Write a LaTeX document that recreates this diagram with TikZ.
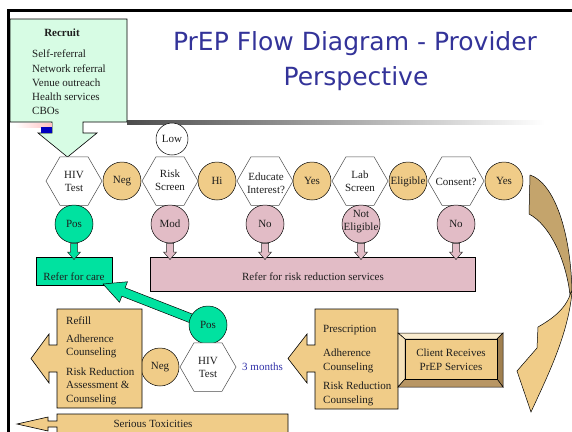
\documentclass[tikz,border=0pt]{standalone}
\usepackage{fontspec}
\setmainfont{Liberation Serif}
\newfontfamily\titlefont{DejaVu Sans}
\usetikzlibrary{shapes.geometric,calc}
\definecolor{cTan}{RGB}{240,204,136}
\definecolor{cDarkTan}{RGB}{196,164,108}
\definecolor{cPink}{RGB}{226,188,198}
\definecolor{cGreen}{RGB}{0,226,160}
\definecolor{cLGreen}{RGB}{215,252,228}
\definecolor{cTitle}{RGB}{51,51,153}
\definecolor{cMonths}{RGB}{51,51,170}
\definecolor{cBevL}{RGB}{250,236,206}
\definecolor{cBevL2}{RGB}{246,226,186}
\definecolor{cBevD}{RGB}{160,128,80}
\definecolor{cBevD2}{RGB}{184,150,100}
\definecolor{cTxt}{RGB}{30,30,30}
\newcommand{\smallarr}[3]{%
  \path let \p1=(#1.south), \p2=(#1.south |- #2.north) in
    [fill=#3, draw=black!85, line width=0.5pt]
    (\x1-3.5pt,\y1) -- (\x1-3.5pt,\y2+5pt) -- (\x1-6.5pt,\y2+5pt) -- (\x1,\y2-2.5pt)
    -- (\x1+6.5pt,\y2+5pt) -- (\x1+3.5pt,\y2+5pt) -- (\x1+3.5pt,\y1) -- cycle;}
\begin{document}
\begin{tikzpicture}[x=1pt,y=-1pt,
  txt/.style={font=\fontsize{11}{13}\selectfont, inner sep=0pt, text=cTxt},
  hexa/.style={regular polygon, regular polygon sides=6, minimum size=56pt, inner sep=0pt, draw=black!70, line width=0.5pt, fill=white},
  circ/.style={circle, minimum size=38pt, inner sep=0pt, draw=black, line width=0.5pt, font=\fontsize{11}{13}\selectfont, text=cTxt},
  boxd/.style={draw=black, line width=0.6pt},
]
\useasboundingbox (0,0) rectangle (572,431);
\clip (0,0) rectangle (572,431);
\fill[white] (0,0) rectangle (572,431);

% frame and gradient bar
\draw[line width=2.7pt] (8.7,440) -- (8.7,10.7) -- (580,10.7);
\shade[left color=black!70, right color=white] (127,120) rectangle (545,124);

% recruit box with arrow
\filldraw[fill=cLGreen, boxd] (10,19) -- (127,19) -- (127,122) -- (83,122) -- (83,133) -- (97,133)
  -- (67.5,157) -- (38,133) -- (52,133) -- (52,122) -- (10,122) -- cycle;
\shade[left color=white, right color=red!25] (15,123) rectangle (52,127);
\fill[blue!75!black] (41,127) rectangle (52,133);
\node[txt, font=\bfseries\fontsize{11}{13}\selectfont, anchor=base] (rt) at (62,36.5) {Recruit};
\node[txt, anchor=base west] (r1) at (32,57.3) {Self-referral};
\node[txt, anchor=base west] (r2) at (32,72.3) {Network referral};
\node[txt, anchor=base west] (r3) at (32,86.5) {Venue outreach};
\node[txt, anchor=base west] (r4) at (32,100.6) {Health services};
\node[txt, anchor=base west] (r5) at (32,114.8) {CBOs};

% title
\node[font=\titlefont\fontsize{25}{30}\selectfont, text=cTitle, anchor=base, inner sep=0pt] (t1) at (355,50) {PrEP Flow Diagram - Provider};
\node[font=\titlefont\fontsize{25}{30}\selectfont, text=cTitle, anchor=base, inner sep=0pt] (t2) at (356,85) {Perspective};

% top row
\node[circ, fill=white, minimum size=32pt] (low) at (172,139) {Low};
\node[hexa] (h1) at (74,181) {};
\node[hexa] (h2) at (170,181) {};
\node[hexa] (h3) at (265,181) {};
\node[hexa] (h4) at (360,181) {};
\node[hexa] (h5) at (456,181) {};
\node[txt, align=center] (h1t) at (74,181) {HIV\\Test};
\node[txt, align=center] (h2t) at (170,180) {Risk\\Screen};
\node[txt, align=center] (h3t) at (266,183) {Educate\\Interest?};
\node[txt, align=center] (h4t) at (360,181) {Lab\\Screen};
\node[txt] (h5t) at (456,182) {Consent?};
\node[circ, fill=cTan] (c1) at (122,181) {Neg};
\node[circ, fill=cTan] (c2) at (217,181) {Hi};
\node[circ, fill=cTan] (c3) at (312,181) {Yes};
\node[circ, fill=cTan] (c4) at (408,181) {};
\node[txt] (c4t) at (408,182) {Eligible};
\node[circ, fill=cTan] (c5) at (504,181) {Yes};

% second row
\node[circ, fill=cGreen] (pos1) at (74,224) {Pos};
\node[circ, fill=cPink] (mod) at (170,224) {Mod};
\node[circ, fill=cPink] (no1) at (265,224) {No};
\node[circ, fill=cPink] (notel) at (361,224) {};
\node[txt, align=center] (notelt) at (361,222) {Not\\Eligible};
\node[circ, fill=cPink] (no2) at (456,224) {No};

% referral boxes
\node[boxd, fill=cGreen, minimum width=76pt, minimum height=28pt, anchor=north west, inner sep=0pt] (care) at (36,257) {};
\node[boxd, fill=cPink, minimum width=325pt, minimum height=34pt, anchor=north west, inner sep=0pt] (risk) at (150,257) {};
\node[txt, anchor=base] (caret) at (74,280.7) {Refer for care};
\node[txt, anchor=base] (riskt) at (313,280.7) {Refer for risk reduction services};
\smallarr{pos1}{care}{cGreen}
\smallarr{mod}{risk}{cPink}
\smallarr{no1}{risk}{cPink}
\smallarr{notel}{risk}{cPink}
\smallarr{no2}{risk}{cPink}

% lower test
\coordinate (pos2c) at (208,325);
\coordinate (gtip) at (103,284);
\coordinate (gb) at ($(gtip)!22pt!(pos2c)$);
\filldraw[fill=cGreen, draw=black, line width=0.5pt]
  ($(pos2c)!4.5pt!90:(gtip)$) -- ($(gb)!4.5pt!90:(gtip)$) -- ($(gb)!11pt!90:(gtip)$) -- (gtip)
  -- ($(gb)!11pt!-90:(gtip)$) -- ($(gb)!4.5pt!-90:(gtip)$) -- ($(pos2c)!4.5pt!-90:(gtip)$) -- cycle;
\node[circ, fill=cGreen] (pos2) at (pos2c) {Pos};
\node[hexa] (h6) at (208,367) {};
\node[txt, align=center] (h6t) at (208,367) {HIV\\Test};
\node[circ, fill=cTan] (neg2) at (160,367) {Neg};
\node[txt, text=cMonths, anchor=base west] (months) at (242,370.5) {3 months};

% refill callout
\filldraw[fill=cTan, boxd] (57,309) -- (142,309) -- (142,408) -- (57,408) -- (57,372) -- (49,372) -- (49,383)
  -- (31,358.5) -- (49,334) -- (49,345) -- (57,345) -- cycle;
\node[txt, anchor=base west] (f1) at (66,324) {Refill};
\node[txt, anchor=base west] (f2) at (66,342.7) {Adherence};
\node[txt, anchor=base west] (f3) at (66,355.7) {Counseling};
\node[txt, anchor=base west] (f4) at (66,375) {Risk Reduction};
\node[txt, anchor=base west] (f5) at (66,388.7) {Assessment \&};
\node[txt, anchor=base west] (f6) at (66,402) {Counseling};

% prescription callout
\filldraw[fill=cTan, boxd] (315,309) -- (398,309) -- (398,409) -- (315,409) -- (315,372) -- (307,372) -- (307,383)
  -- (288,358.5) -- (307,334) -- (307,345) -- (315,345) -- cycle;
\node[txt, anchor=base west] (p1) at (323,332.7) {Prescription};
\node[txt, anchor=base west] (p2) at (323,356.7) {Adherence};
\node[txt, anchor=base west] (p3) at (323,370) {Counseling};
\node[txt, anchor=base west] (p4) at (323,389.3) {Risk Reduction};
\node[txt, anchor=base west] (p5) at (323,403.3) {Counseling};

% client receives bevel box
\filldraw[fill=cBevL, draw=black, line width=0.5pt] (398,333) -- (503,333) -- (497,339) -- (405,339) -- cycle;
\filldraw[fill=cBevL2, draw=black, line width=0.5pt] (398,333) -- (405,339) -- (405,379) -- (398,387) -- cycle;
\filldraw[fill=cBevD, draw=black, line width=0.5pt] (503,333) -- (503,387) -- (497,379) -- (497,339) -- cycle;
\filldraw[fill=cBevD2, draw=black, line width=0.5pt] (398,387) -- (503,387) -- (497,379) -- (405,379) -- cycle;
\node[boxd, fill=cTan, minimum width=92pt, minimum height=40pt, anchor=north west, inner sep=0pt] (client) at (405,339) {};
\node[txt, anchor=base] (cl1) at (451,356) {Client Receives};
\node[txt, anchor=base] (cl2) at (451,370.7) {PrEP Services};

% serious toxicities
\filldraw[fill=cTan, boxd] (57,414) -- (288,414) -- (288,440) -- (57,440) -- (57,427) -- (48,427) -- (48,431)
  -- (17,424) -- (48,417) -- (48,421) -- (57,421) -- cycle;
\node[txt, anchor=base] (tox) at (153,427.7) {Serious Toxicities};

% big curved arrow
\filldraw[fill=cDarkTan, draw=black, line width=0.5pt]
  (530,175) .. controls (552,182) and (570,225) .. (572,290)
  -- (570,295) .. controls (566,260) and (550,225) .. (529,214) -- cycle;
\filldraw[fill=cTan, draw=black, line width=0.5pt]
  (571,292) .. controls (566,310) and (550,320) .. (538,327) -- (537,348) -- (517,371) -- (531,412)
  .. controls (548,375) and (568,335) .. (572,292) -- cycle;
\end{tikzpicture}
\end{document}
